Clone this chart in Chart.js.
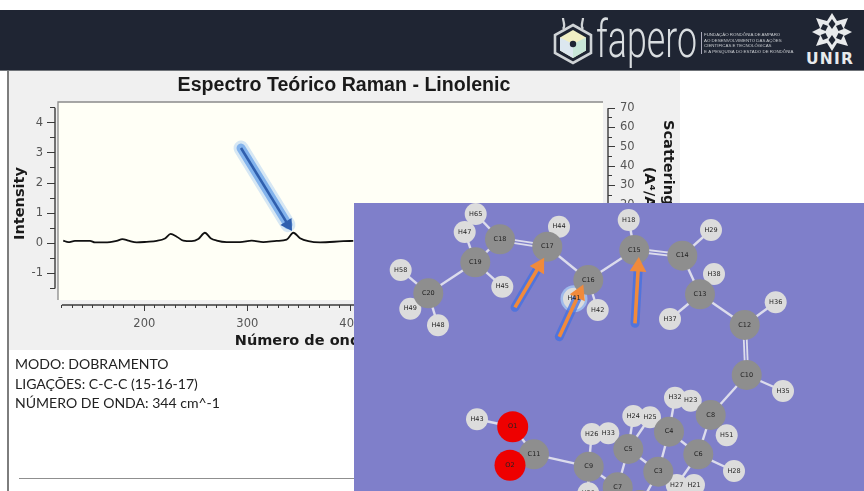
<!DOCTYPE html>
<html>
<head>
<meta charset="utf-8">
<script src="https://cdn.jsdelivr.net/npm/chart.js@4"></script>
<style>
html,body{margin:0;padding:0;background:#fff;width:864px;height:491px;overflow:hidden}
.abs{position:absolute}
#header{left:0;top:10px;width:864px;height:60px;background:#1f2533;border-bottom:1px solid #6f7378}
#panel{left:8px;top:71px;width:672px;height:279px;background:#f0f0f0}
#leftBorder{left:7px;top:71px;width:2px;height:420px;background:#7d7d7d}
#spectrum{left:8px;top:71px;filter:blur(.45px)}
#molecule{left:354px;top:203px;filter:blur(.6px)}
#info{left:15px;top:354px;font:14.05px/19.6px Lato,sans-serif;color:#222;filter:blur(.25px)}
#rule{left:19px;top:478px;width:335px;height:1px;background:#8f8f8f}
#fapero{left:596px;top:10px;font:300 51px/60px Roboto,sans-serif;color:#d9dde0;transform-origin:0 0;transform:scaleX(.7);filter:blur(.3px)}
#small{left:701px;top:32px;font:4.4px/5.6px "Liberation Sans",sans-serif;color:#c9ccd0;white-space:nowrap;border-left:1px solid #aab;padding-left:2px;filter:blur(.25px)}
#unir{left:806px;top:50px;font:bold 15.5px/18px "DejaVu Sans",sans-serif;color:#e8eaec;letter-spacing:1.2px}
</style>
</head>
<body>
<div id="header" class="abs"></div>
<svg class="abs" style="left:550px;top:14px" width="46" height="52" viewBox="0 0 46 52">
  <polygon points="23,11 41,21 41,39 23,49 5,39 5,21" fill="none" stroke="#cfd3d6" stroke-width="2.6"/>
  <polygon points="23,16 36,23.5 36,36.5 23,44 10,36.5 10,23.5" fill="#f1efc4"/>
  <polygon points="23,30 36,23.5 36,36.5 23,44" fill="#c8e6d8"/>
  <polygon points="23,30 10,23.5 10,36.5 23,44" fill="#dce7ef"/>
  <circle cx="23" cy="30" r="3.2" fill="#1f2533"/>
  <path d="M13 15 C 16 11, 13 8, 13 4 M33 15 C 30 11, 33 8, 33 4" fill="none" stroke="#cfd3d6" stroke-width="2.2"/>
</svg>
<div id="fapero" class="abs">fapero</div>
<div id="small" class="abs">FUNDAÇÃO RONDÔNIA DE AMPARO<br>AO DESENVOLVIMENTO DAS AÇÕES<br>CIENTÍFICAS E TECNOLÓGICAS<br>E À PESQUISA DO ESTADO DE RONDÔNIA</div>
<svg class="abs" style="left:811px;top:13px" width="42" height="38" viewBox="0 0 42 38">
  <polygon points="21,0 26,8 37,5 33,15 41,19 33,23 37,33 26,30 21,38 16,30 5,33 9,23 1,19 9,15 5,5 16,8" fill="#e8eaec"/>
  <g fill="#1f2533">
    <polygon points="21,6 24.5,11 21,16 17.5,11"/><polygon points="21,22 24.5,27 21,32 17.5,27"/>
    <polygon points="12,11 17,13 14.5,18 9.5,16"/><polygon points="30,11 25,13 27.5,18 32.5,16"/>
    <polygon points="12,27 17,25 14.5,20 9.5,22"/><polygon points="30,27 25,25 27.5,20 32.5,22"/>
  </g>
</svg>
<div id="unir" class="abs">UNIR</div>

<div id="panel" class="abs"></div>
<div id="leftBorder" class="abs"></div>
<canvas id="spectrum" class="abs" width="672" height="279"></canvas>
<div id="info" class="abs">MODO: DOBRAMENTO<br>LIGAÇÕES: C-C-C (15-16-17)<br>NÚMERO DE ONDA: 344 cm^-1</div>
<div id="rule" class="abs"></div>
<canvas id="molecule" class="abs" width="510" height="288"></canvas>

<script>
// ---- spectrum data
const waveNumbers = [121.3,126.2,132.7,147.3,152.1,166.7,173.2,178.7,184.5,192.6,202.3,212,220.1,225.6,231.5,237.9,246,252.4,258.9,264.4,270.3,280,292.9,304.3,315.5,328.5,338.2,344.7,351.2,359.3,370.6,393.2,402.9];
const intensities = [0.09,0.04,0.08,0.08,0.03,0.04,0.08,0.14,0.09,0.03,0.05,0.08,0.16,0.31,0.22,0.09,0.07,0.14,0.35,0.17,0.09,0.04,0.04,0.09,0.04,0.08,0.12,0.35,0.17,0.07,0.03,0.07,0.08];
const peakArrowX = [293.9,339.5];
const peakArrowY = [3.16,0.62];
const chartTitle = "Espectro Teórico Raman - Linolenic";
const xTitle = "Número de onda (cm-1)";
const yTitle = "Intensity";
const y2Title = ["Scattering Activities","(A\u2074/AMU)"];

// ---- molecule data
const atomNames = ["H65","H47","C18","C19","C17","H44","H18","C15","C14","H29","H38","C13","H37","C12","H36","C10","H35","C16","H41","H42","H45","C20","H58","H49","H48","C8","H51","H32","H23","C4","C6","H28","C3","C5","H24","H25","H26","H33","C9","C7","C11","O1","O2","H43","H27","H21","H39","C1"];
const atomX = [475.7,464.7,500,475.3,547.3,559,628.7,634.3,682.3,711,714,700,670,744.7,775.7,746.7,783,588.3,574,597.7,502.3,428.3,400.7,410.3,438,710.7,726.7,675,690.7,669,698.3,734,658.3,628.3,633.3,650,591.7,608.3,588.7,617.7,534,512.7,510,477,676.7,694,588.3,640];
const atomY = [214,232,239.3,262.3,246.7,226.7,220,250,255.7,230,274,294.3,319,325,302.3,375,391,280,298.7,310,286.7,293.3,270,308.7,325.3,415,435.3,397.7,400.7,431.7,454.3,471,471.7,449,416,417.3,434,433.3,466.7,487.3,454.3,426.7,465.3,419.3,485,485,493.3,505];
const singleBonds = [["H65","C18"],["H47","C19"],["C18","C19"],["C19","C20"],["C19","H45"],["C17","H44"],["C17","C16"],["C16","C15"],["C16","H41"],["C16","H42"],["C15","H18"],["C14","H29"],["C14","C13"],["C13","H38"],["C13","H37"],["C13","C12"],["C12","H36"],["C10","H35"],["C10","C8"],["C8","H51"],["C8","H23"],["C8","C6"],["C4","H32"],["C4","C6"],["C4","C3"],["C5","C3"],["C5","H25"],["C5","H24"],["C5","C7"],["C6","H28"],["C6","H27"],["C3","C1"],["C9","H26"],["C9","C7"],["C9","C11"],["C9","H39"],["C11","O1"],["O1","H43"],["C20","H58"],["C20","H49"],["C20","H48"]];
const doubleBonds = [["C18","C17"],["C15","C14"],["C12","C10"],["C11","O2"]];
const haloAtom = "H41";
const modeArrowsX = [[515,539.3],[559.3,579.3],[635,638.3]];
const modeArrowsY = [[307.3,266],[336.7,293.3],[323.3,266.7]];

// ---- spectrum chart
const AXIS = "#3a3a3a";
const tickFont = {family:"'DejaVu Sans',sans-serif",size:11.5};
const titleFont = {family:"'DejaVu Sans',sans-serif",size:14.5,weight:"bold"};
function fixW(w){return s=>{s.width=w;};}
function fixH(h){return s=>{s.height=h;};}
function keep(a,b){return s=>{s.ticks=s.ticks.filter(t=>t.value>=a&&t.value<=b);};}
function minorAxis(extra){
  return Object.assign({type:"linear",grid:{drawOnChartArea:false,tickColor:AXIS,tickLength:4},border:{display:false},ticks:{display:false,includeBounds:false}},extra);
}
function majorAxis(extra,step,len,pad,title){
  return Object.assign({type:"linear",grid:{drawOnChartArea:false,tickColor:AXIS,tickLength:len},border:{display:false},
    ticks:{stepSize:step,includeBounds:false,autoSkip:false,maxRotation:0,minRotation:0,color:"#555",font:tickFont,padding:pad},
    title:title},extra);
}
const frame = {
  id:"frame",
  beforeDatasetsDraw(c){
    const a=c.chartArea,g=c.ctx;
    g.save();
    g.fillStyle="#fffff6"; g.fillRect(a.left+3,a.top,a.width-8,a.height-5);
    g.strokeStyle="#8a8a8a"; g.lineWidth=1.3;
    g.beginPath(); g.moveTo(a.left+3,a.bottom-5); g.lineTo(a.left+3,a.top); g.lineTo(a.right-5,a.top); g.stroke();
    g.strokeStyle=AXIS; g.lineWidth=1.4;
    const y=c.scales.y,x=c.scales.x,r=c.scales.y2;
    g.beginPath();
    g.moveTo(a.left,y.getPixelForValue(4.5)); g.lineTo(a.left,y.getPixelForValue(-1.5));
    g.moveTo(x.getPixelForValue(120),a.bottom); g.lineTo(x.getPixelForValue(640),a.bottom);
    g.moveTo(a.right,r.getPixelForValue(70)); g.lineTo(a.right,r.getPixelForValue(-25));
    g.stroke();
    g.restore();
  }
};
new Chart(document.getElementById("spectrum"),{
  type:"scatter",
  plugins:[frame],
  data:{datasets:[
    {data:waveNumbers.map((w,i)=>({x:w,y:intensities[i]})),showLine:true,borderColor:"#111",borderWidth:1.8,cubicInterpolationMode:"monotone",pointRadius:0,order:4,xAxisID:"x",yAxisID:"y"},
    {data:peakArrowX.map((w,i)=>({x:w,y:peakArrowY[i]})),showLine:true,borderColor:"rgba(120,175,240,.3)",borderWidth:15,borderCapStyle:"round",pointRadius:0,order:3,xAxisID:"x",yAxisID:"y"},
    {data:peakArrowX.map((w,i)=>({x:w,y:peakArrowY[i]})),showLine:true,borderColor:"rgba(96,156,232,.7)",borderWidth:9,borderCapStyle:"round",pointRadius:0,order:2,xAxisID:"x",yAxisID:"y"},
    {data:peakArrowX.map((w,i)=>({x:w,y:peakArrowY[i]})),showLine:true,borderColor:"#2f5fae",borderWidth:2.6,pointStyle:"triangle",pointRadius:[0,5],pointRotation:[0,148],pointBackgroundColor:"#2f5fae",pointBorderColor:"#2f5fae",order:1,xAxisID:"x",yAxisID:"y"}
  ]},
  options:{
    responsive:false,animation:false,devicePixelRatio:1,
    layout:{padding:0,autoPadding:false},
    plugins:{legend:{display:false},tooltip:{enabled:false},
      title:{display:true,text:chartTitle,color:"#1a1a1a",font:{family:"'Liberation Sans',sans-serif",size:19.6,weight:"bold",lineHeight:1.2},padding:{top:3,bottom:4.5}}},
    scales:{
      x:majorAxis({position:"bottom",axis:"x",min:113.3,max:650.2,weight:1,afterFit:fixH(42),afterBuildTicks:keep(200,640)},100,3,6,
        {display:true,text:xTitle,color:"#1a1a1a",font:titleFont,padding:{top:0,bottom:0}}),
      xMinor:minorAxis({position:"bottom",axis:"x",min:113.3,max:650.2,weight:0,afterFit:fixH(3),afterBuildTicks:keep(120,640),ticks:{display:false,includeBounds:false,stepSize:10},grid:{drawOnChartArea:false,tickColor:AXIS,tickLength:3}}),
      y:majorAxis({position:"left",axis:"y",min:-2.046,max:4.687,weight:1,afterFit:fixW(42),afterBuildTicks:keep(-1,4)},1,3,4,
        {display:true,text:yTitle,color:"#1a1a1a",font:titleFont,padding:{top:4,bottom:0}}),
      yMinor:minorAxis({position:"left",axis:"y",min:-2.046,max:4.687,weight:0,afterFit:fixW(5),afterBuildTicks:keep(-1.5,4.5),ticks:{display:false,includeBounds:false,stepSize:.5},grid:{drawOnChartArea:false,tickColor:AXIS,tickLength:5}}),
      y2:majorAxis({position:"right",axis:"y",min:-32,max:73.2,weight:1,afterFit:fixW(68),afterBuildTicks:keep(-20,70)},10,3,5,
        {display:true,text:y2Title,color:"#1a1a1a",font:Object.assign({},titleFont,{lineHeight:1.35}),padding:{top:2,bottom:0}}),
      y2Minor:minorAxis({position:"right",axis:"y",min:-32,max:73.2,weight:0,afterFit:fixW(4),afterBuildTicks:keep(-25,70),ticks:{display:false,includeBounds:false,stepSize:5},grid:{drawOnChartArea:false,tickColor:AXIS,tickLength:4}})
    }
  }
});

// ---- molecule chart
const idx = n=>atomNames.indexOf(n);
const pt = n=>({x:atomX[idx(n)],y:atomY[idx(n)]});
const isKind = k=>atomNames.filter(n=>n[0]===k);
const panelBg = {id:"panelBg",beforeDraw(c){c.ctx.fillStyle="#7f7fca";c.ctx.fillRect(0,0,c.width,c.height);}};
const atomLabels = {
  id:"atomLabels",
  afterDatasetsDraw(c){
    const g=c.ctx,x=c.scales.x,y=c.scales.y;
    g.save();g.textAlign="center";g.textBaseline="middle";g.font="6.5px 'DejaVu Sans',sans-serif";g.fillStyle="#222";
    atomNames.forEach((n,i)=>g.fillText(n,x.getPixelForValue(atomX[i]),y.getPixelForValue(atomY[i])));
    g.restore();
  }
};
const molSets = [];
singleBonds.forEach(b=>molSets.push({data:b.map(pt),showLine:true,borderColor:"#dcdcec",borderWidth:2.4,pointRadius:0,order:20}));
doubleBonds.forEach(b=>{
  molSets.push({data:b.map(pt),showLine:true,borderColor:"#dcdcec",borderWidth:4.8,pointRadius:0,order:20});
  molSets.push({data:b.map(pt),showLine:true,borderColor:"#7f7fca",borderWidth:1.2,pointRadius:0,order:19});
});
molSets.push({data:[pt(haloAtom)],pointRadius:13.5,pointBackgroundColor:"rgba(170,205,245,.75)",pointBorderWidth:0,order:12});
molSets.push({data:isKind("H").map(pt),pointRadius:11,pointBackgroundColor:"#dcdcdc",pointBorderWidth:0,order:10});
molSets.push({data:isKind("C").map(pt),pointRadius:15,pointBackgroundColor:"#8e8e8e",pointBorderWidth:0,order:9});
molSets.push({data:isKind("O").map(pt),pointRadius:15.5,pointBackgroundColor:"#ee0000",pointBorderWidth:0,order:8});
modeArrowsX.forEach((ax,k)=>{
  const ay=modeArrowsY[k];
  const d=ax.map((v,i)=>({x:v,y:ay[i]}));
  const deg=Math.atan2(ax[1]-ax[0],ay[0]-ay[1])*180/Math.PI;
  molSets.push({data:d,showLine:true,borderColor:"rgba(66,112,226,.75)",borderWidth:9,borderCapStyle:"round",pointRadius:0,order:5});
  molSets.push({data:d,showLine:true,borderColor:"#f08a3c",borderWidth:3.6,pointStyle:"triangle",pointRadius:[0,6],pointRotation:[0,deg],pointBackgroundColor:"#f08a3c",pointBorderColor:"#f08a3c",order:4});
});
molSets.forEach(s=>{s.clip=false;});
new Chart(document.getElementById("molecule"),{
  type:"scatter",
  plugins:[panelBg,atomLabels],
  data:{datasets:molSets},
  options:{
    responsive:false,animation:false,devicePixelRatio:1,layout:{padding:0,autoPadding:false},
    plugins:{legend:{display:false},tooltip:{enabled:false},title:{display:false}},
    scales:{
      x:{type:"linear",display:false,min:354,max:864},
      y:{type:"linear",display:false,reverse:true,min:203,max:491}
    }
  }
});
</script>
</body>
</html>
